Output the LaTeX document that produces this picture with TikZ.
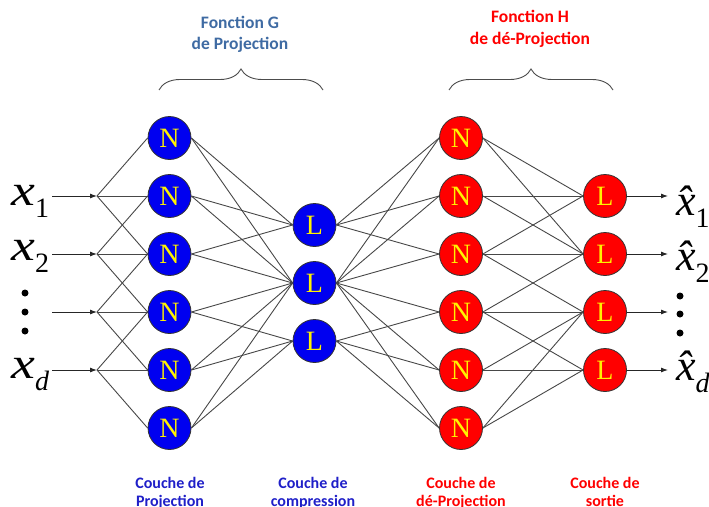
\documentclass[tikz,border=0pt]{standalone}
\usepackage{fontspec}
\setmainfont{Liberation Serif}
\newfontfamily\calfont{Carlito}
\usetikzlibrary{arrows.meta,decorations.pathreplacing}
\definecolor{nblue}{HTML}{0000F0}
\definecolor{nred}{HTML}{FF0000}
\definecolor{tblue}{HTML}{3F6BA3}
\definecolor{lblue}{HTML}{1F1FC8}
\definecolor{lred}{HTML}{FF0000}
\definecolor{conn}{HTML}{474747}
\newcommand{\varx}[1]{{\fontsize{44}{44}\selectfont\itshape\scalebox{1.22}[1]{x}}{\fontsize{28}{28}\selectfont\raisebox{-12pt}{#1}}}
\newcommand{\varxh}[1]{{\fontsize{44}{44}\selectfont\itshape\^{x}}{\fontsize{28}{28}\selectfont\raisebox{-12pt}{#1}}}
\begin{document}
\begin{tikzpicture}[x=1pt,y=-1pt,
  neuron/.style={circle,draw=black!80,line width=0.8pt,minimum size=43pt,inner sep=0pt,text=yellow,font=\fontsize{28}{28}\selectfont},
  bneuron/.style={neuron,fill=nblue},
  rneuron/.style={neuron,fill=nred},
  link/.style={draw=conn,line width=0.9pt},
  arr/.style={draw=black!85,line width=0.9pt,-{Latex[length=7pt,width=5pt]}},
  brc/.style={draw=black!70,line width=0.9pt,decorate,decoration={brace,amplitude=21pt}},
  dotm/.style={circle,fill=black,inner sep=0pt,minimum size=7pt},
  ttl/.style={font=\calfont\bfseries\fontsize{17.5}{21}\selectfont,align=center,anchor=base},
  lbl/.style={font=\calfont\bfseries\fontsize{16}{18}\selectfont,align=center,anchor=base},
  var/.style={anchor=base west,inner sep=0pt}
]
\useasboundingbox (0,0) rectangle (709,506);

% titles (anchor base = last line)
\node[ttl,text=tblue] (tG) at (240,49) {Fonction G\\de Projection};
\node[ttl,text=nred] (tH) at (530,44) {Fonction H\\de dé-Projection};

% braces
\coordinate (bGl) at (159,90); \coordinate (bGr) at (323,90);
\coordinate (bHl) at (449,90); \coordinate (bHr) at (613,90);
\draw[brc] (bGl) -- (bGr);
\draw[brc] (bHl) -- (bHr);

% nodes
\foreach \i [evaluate=\i as \yy using 138+58*(\i-1)] in {1,...,6}{
  \node[bneuron] (N\i) at (169.5,\yy) {N};
  \node[rneuron] (R\i) at (461,\yy) {N};
}
\foreach \i [evaluate=\i as \yy using 225+58*(\i-1)] in {1,2,3}{
  \node[bneuron] (L\i) at (314.5,\yy) {L};
}
\foreach \i [evaluate=\i as \yy using 196+58*(\i-1)] in {1,...,4}{
  \node[rneuron] (O\i) at (605,\yy) {L};
  \coordinate (S\i) at (52,\yy);
  \coordinate (J\i) at (97,\yy);
  \coordinate (E\i) at (668,\yy);
  \draw[arr] (S\i) -- (J\i);
  \draw[arr] (O\i.east) -- (E\i);
}

% input fan
\foreach \j/\a/\b/\c in {1/1/2/3,2/2/3/4,3/3/4/5,4/4/5/6}{
  \draw[link] (J\j) -- (N\a.west);
  \draw[link] (J\j) -- (N\b.west);
  \draw[link] (J\j) -- (N\c.west);
}
% N -> L
\foreach \a in {1,2,3}{\draw[link] (N\a.east) -- (L1.west);}
\foreach \a in {1,...,6}{\draw[link] (N\a.east) -- (L2.west);}
\foreach \a in {4,5,6}{\draw[link] (N\a.east) -- (L3.west);}
% L -> R
\foreach \a in {1,2,3}{\draw[link] (L1.east) -- (R\a.west);}
\foreach \a in {1,...,6}{\draw[link] (L2.east) -- (R\a.west);}
\foreach \a in {4,5,6}{\draw[link] (L3.east) -- (R\a.west);}
% R -> O
\foreach \r/\o in {1/1,1/2,2/1,2/2,3/1,3/2,3/3,4/2,4/3,4/4,5/3,5/4,6/3,6/4}{
  \draw[link] (R\r.east) -- (O\o.west);
}

% input labels
\node[var] (x1) at (11,205) {\varx{1}};
\node[var] (x2) at (11,260) {\varx{2}};
\node[var] (xd) at (11,378) {\varx{\itshape d}};
\node[dotm] (dl1) at (25,293) {};
\node[dotm] (dl2) at (25,312) {};
\node[dotm] (dl3) at (25,331) {};

% output labels
\node[var] (y1) at (676,215) {\varxh{1}};
\node[var] (y2) at (676,270) {\varxh{2}};
\node[var] (yd) at (676,380) {\varxh{\itshape d}};
\node[dotm] (dr1) at (680,296) {};
\node[dotm] (dr2) at (680,314) {};
\node[dotm] (dr3) at (680,333) {};

% bottom labels (anchor base = last line)
\node[lbl,text=lblue] (c1) at (170,506) {Couche de\\Projection};
\node[lbl,text=lblue] (c2) at (313,506) {Couche de\\compression};
\node[lbl,text=lred] (c3) at (461,506) {Couche de\\dé-Projection};
\node[lbl,text=lred] (c4) at (605,506) {Couche de\\sortie};
\end{tikzpicture}
\end{document}
